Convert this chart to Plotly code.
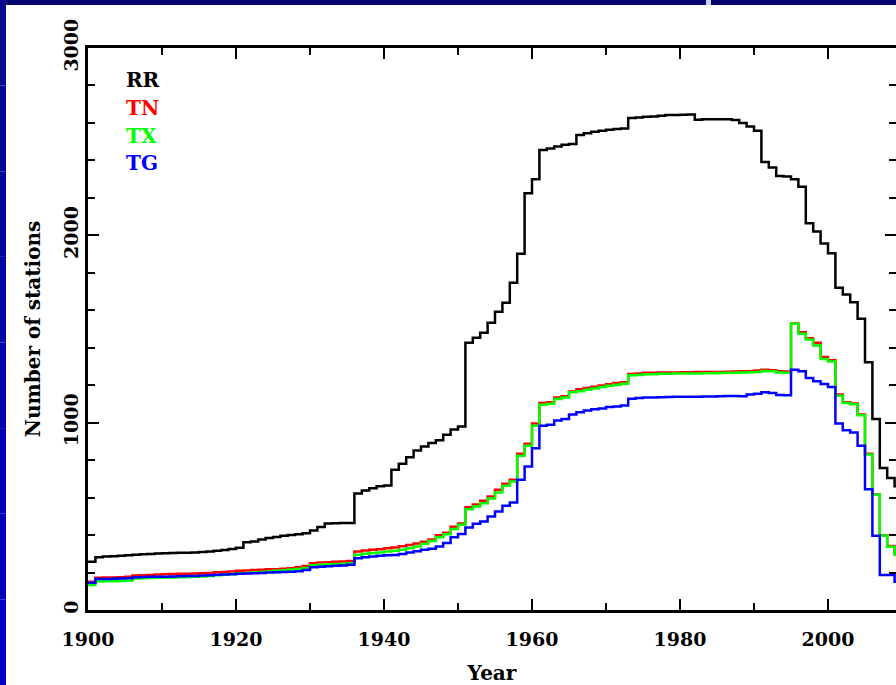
import plotly.graph_objects as go

years = list(range(1900, 2010))

rr = [258, 282, 285, 287, 290, 292, 295, 297, 299, 301,
      303, 304, 305, 306, 307, 309, 312, 316, 320, 325,
      332, 362, 366, 376, 384, 390, 396, 401, 404, 410,
      424, 443, 462, 463, 464, 465, 622, 638, 650, 660,
      665, 749, 781, 816, 852, 873, 891, 906, 936, 963,
      980, 1426, 1453, 1480, 1533, 1592, 1640, 1747, 1902, 2225,
      2299, 2455, 2464, 2474, 2483, 2488, 2535, 2545, 2553, 2558,
      2563, 2567, 2570, 2626, 2629, 2633, 2634, 2638, 2642, 2642,
      2644, 2645, 2617, 2619, 2620, 2620, 2619, 2615, 2599, 2581,
      2558, 2392, 2362, 2317, 2314, 2299, 2260, 2064, 2021, 1956,
      1904, 1720, 1684, 1643, 1555, 1322, 1020, 758, 704, 660]

tn = [151, 172, 173, 174, 175, 177, 184, 185, 187, 189,
      191, 192, 193, 194, 195, 196, 198, 201, 203, 206,
      209, 211, 213, 215, 217, 218, 220, 223, 228, 235,
      250, 253, 255, 257, 259, 261, 312, 317, 321, 324,
      330, 333, 340, 347, 355, 364, 376, 399, 413, 444,
      462, 549, 563, 583, 606, 642, 674, 695, 834, 888,
      995, 1105, 1109, 1135, 1141, 1167, 1178, 1185, 1192, 1198,
      1205, 1212, 1216, 1260, 1262, 1266, 1266, 1268, 1268, 1268,
      1269, 1269, 1270, 1270, 1271, 1271, 1272, 1273, 1274, 1275,
      1278, 1283, 1280, 1274, 1273, 1530, 1483, 1451, 1426, 1351,
      1333, 1150, 1109, 1102, 1043, 834, 617, 398, 342, 300]

tx = [134, 152, 153, 154, 155, 156, 168, 170, 171, 172,
      173, 174, 175, 176, 177, 179, 182, 185, 188, 192,
      196, 198, 200, 203, 206, 209, 212, 216, 219, 224,
      239, 242, 244, 246, 247, 249, 295, 300, 304, 307,
      312, 316, 322, 330, 339, 353, 368, 388, 404, 432,
      455, 538, 553, 570, 595, 627, 663, 686, 824, 877,
      984, 1096, 1101, 1127, 1134, 1162, 1168, 1176, 1183, 1191,
      1197, 1203, 1208, 1253, 1255, 1259, 1259, 1261, 1261, 1262,
      1262, 1263, 1263, 1264, 1264, 1265, 1266, 1267, 1268, 1269,
      1271, 1276, 1274, 1268, 1267, 1528, 1474, 1444, 1412, 1340,
      1326, 1144, 1105, 1098, 1040, 830, 615, 396, 338, 295]

tg = [146, 165, 166, 167, 168, 169, 175, 176, 177, 177,
      178, 179, 180, 181, 182, 184, 186, 188, 189, 191,
      193, 195, 196, 198, 200, 202, 203, 204, 207, 214,
      228, 231, 234, 236, 238, 241, 276, 282, 285, 289,
      292, 294, 299, 307, 314, 322, 327, 339, 358, 389,
      406, 440, 460, 472, 499, 526, 556, 574, 695, 766,
      864, 984, 989, 1012, 1020, 1043, 1055, 1065, 1072, 1076,
      1083, 1086, 1091, 1128, 1132, 1134, 1135, 1136, 1137, 1138,
      1138, 1139, 1139, 1140, 1140, 1141, 1143, 1143, 1141, 1150,
      1155, 1162, 1158, 1148, 1147, 1283, 1274, 1239, 1221, 1207,
      1191, 995, 959, 948, 877, 645, 396, 187, 187, 151]

series_names = ["RR", "TN", "TX", "TG"]
series_values = [rr, tn, tx, tg]
series_colors = ["#000000", "#ff0000", "#00ff00", "#0000ff"]

x_tick_vals = [1900, 1920, 1940, 1960, 1980, 2000]
y_tick_vals = [0, 1000, 2000, 3000]

FONT = "DejaVu Serif"

# year bins: each value spans [year, year+1]
edges = years + [years[-1] + 1]

fig = go.Figure()
for name, vals, col in zip(series_names, series_values, series_colors):
    fig.add_trace(go.Scatter(
        x=edges, y=vals + [vals[-1]], mode="lines", name=name,
        line=dict(color=col, width=2.5, shape="hv"),
        showlegend=False, hoverinfo="skip"))

# legend labels as coloured text
for i, (name, col) in enumerate(zip(series_names, series_colors)):
    fig.add_annotation(
        x=0.044, y=0.9430 - i * 0.0495, xref="paper", yref="paper",
        text=name, showarrow=False, xanchor="left", yanchor="middle",
        font=dict(family=FONT, size=20, color=col, weight="bold"))

W, H = 896, 685
L, T, B = 88, 48, 75
pw, ph = W - L, H - T - B

# slide background bands (navy top, blue left)
shapes = [
    dict(type="rect", xref="paper", yref="paper", layer="below",
         x0=-L / pw, x1=1.05, y0=(ph + T - 5) / ph, y1=(ph + T) / ph,
         fillcolor="#04046e", line_width=0),
    dict(type="rect", xref="paper", yref="paper", layer="below",
         x0=(706 - L) / pw, x1=(711 - L) / pw, y0=(ph + T - 5) / ph, y1=(ph + T) / ph,
         fillcolor="#c8d0f0", line_width=0),
]
nseg = 8
for k in range(nseg):
    ytop = k * H / nseg
    ybot = (k + 1) * H / nseg
    frac = k / (nseg - 1)
    r = int(10 * (1 - frac))
    g = int(10 * (1 - frac))
    b = int(0x90 + (0xc8 - 0x90) * frac)
    shapes.append(dict(type="rect", xref="paper", yref="paper", layer="below",
                       x0=-L / pw, x1=(-L + 6) / pw,
                       y0=(ph + T - ybot) / ph, y1=(ph + T - ytop) / ph,
                       fillcolor=f"rgb({r},{g},{b})", line_width=0))

axis_common = dict(
    showline=True, linecolor="black", linewidth=2.5, mirror="allticks",
    ticks="inside", tickcolor="black", tickwidth=2, ticklen=11,
    showgrid=False, zeroline=False,
    tickfont=dict(family=FONT, size=19, color="black", weight="bold"),
)

fig.update_layout(
    width=W, height=H,
    margin=dict(l=L, r=0, t=T, b=B, autoexpand=False),
    paper_bgcolor="white", plot_bgcolor="white",
    shapes=shapes,
    xaxis=dict(
        range=[1900, 1900 + pw / 7.4], tickvals=x_tick_vals,
        ticklabelstandoff=10,
        minor=dict(dtick=10, ticklen=7, tickwidth=2, tickcolor="black", ticks="inside"),
        title=dict(text="Year", standoff=20,
                   font=dict(family=FONT, size=20, color="black", weight="bold")),
        **axis_common),
    yaxis=dict(
        range=[0, 3000], tickvals=y_tick_vals, tickangle=-90,
        ticklabelstandoff=0,
        minor=dict(dtick=200, ticklen=7, tickwidth=2, tickcolor="black", ticks="inside"),
        title=dict(text="Number of stations", standoff=14,
                   font=dict(family=FONT, size=20, color="black", weight="bold")),
        **axis_common),
)

fig.write_html(
    "out.html",
    config={"displayModeBar": False},
    post_script="document.body.style.margin='0';document.body.style.overflow='hidden';",
)
